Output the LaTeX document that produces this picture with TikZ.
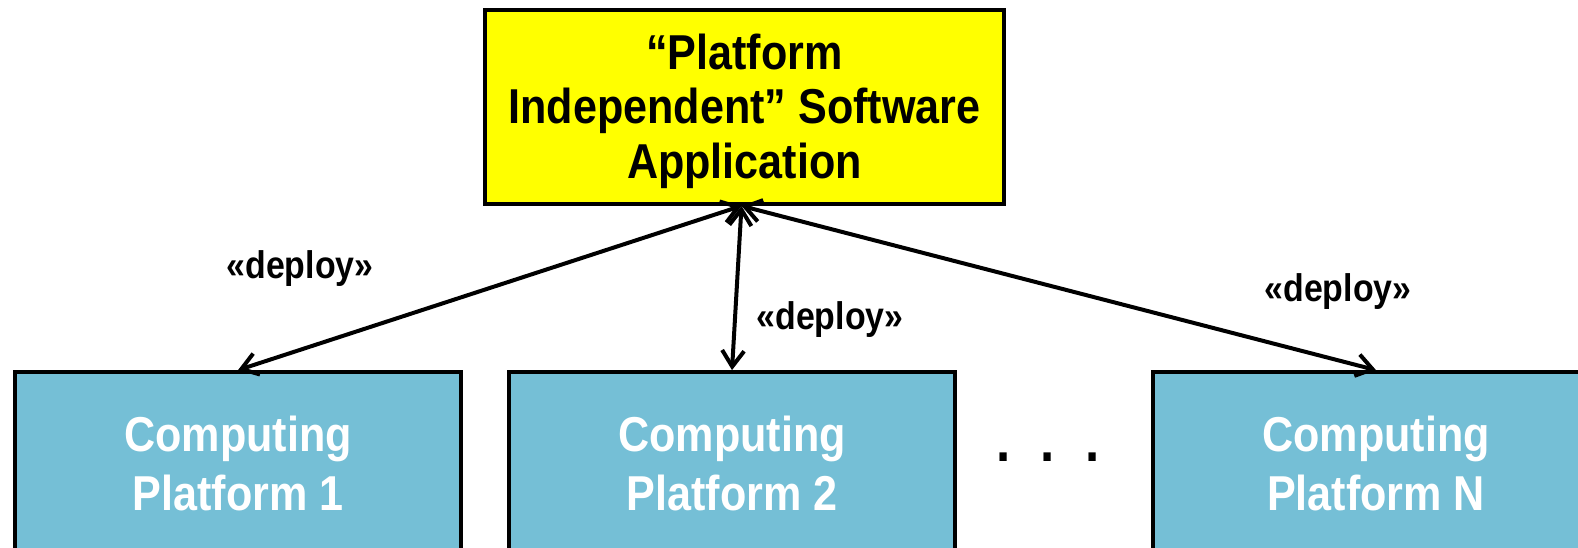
\documentclass[tikz,border=0pt]{standalone}
\usepackage{fontspec}
\setmainfont{Liberation Sans}[FakeStretch=0.88]
\usetikzlibrary{arrows.meta}
\definecolor{platblue}{RGB}{117,191,214}
\definecolor{appyellow}{RGB}{255,255,0}
\begin{document}
\begin{tikzpicture}[x=1pt,y=-1pt,
  appbox/.style={draw=black, line width=3.8pt, fill=appyellow, minimum width=519pt, minimum height=194pt, align=center, font=\fontsize{49}{54.5}\selectfont\bfseries, inner sep=0pt},
  platbox/.style={draw=black, line width=3.8pt, fill=platblue, minimum width=446pt, minimum height=182pt, align=center, text=white, font=\fontsize{49}{59}\selectfont\bfseries, inner sep=0pt},
  stereo/.style={font=\fontsize{38.5}{40}\selectfont\bfseries, inner sep=0pt},
  deployarrow/.style={line width=4pt, {Straight Barb[length=16pt,width=22pt]}-{Straight Barb[length=16pt,width=22pt]}}]
\useasboundingbox (0,0) rectangle (1578,547);
\node[appbox] (app) at (744.5,107) {\raisebox{-6pt}[\height][\depth]{\begin{tabular}{@{}c@{}}“Platform\\Independent” Software\\Application\end{tabular}}};
\node[platbox] (p1) at (238,463) {Computing\\Platform 1};
\node[platbox] (p2) at (732,463) {Computing\\Platform 2};
\node[platbox] (pn) at (1376,463) {Computing\\Platform N};
\node[font=\fontsize{58}{60}\selectfont\bfseries, inner sep=0pt] (dots) at (1048,457) {.\hspace{30pt}.\hspace{30pt}.};
\coordinate (apex) at ([xshift=-3pt]app.south);
\draw[deployarrow] (apex) -- (p1.north);
\draw[deployarrow] (apex) -- (p2.north);
\draw[deployarrow] (apex) -- (pn.north);
\node[stereo] (l1) at (300,269) {«deploy»};
\node[stereo] (l2) at (830,320) {«deploy»};
\node[stereo] (l3) at (1338,292) {«deploy»};
\end{tikzpicture}
\end{document}
